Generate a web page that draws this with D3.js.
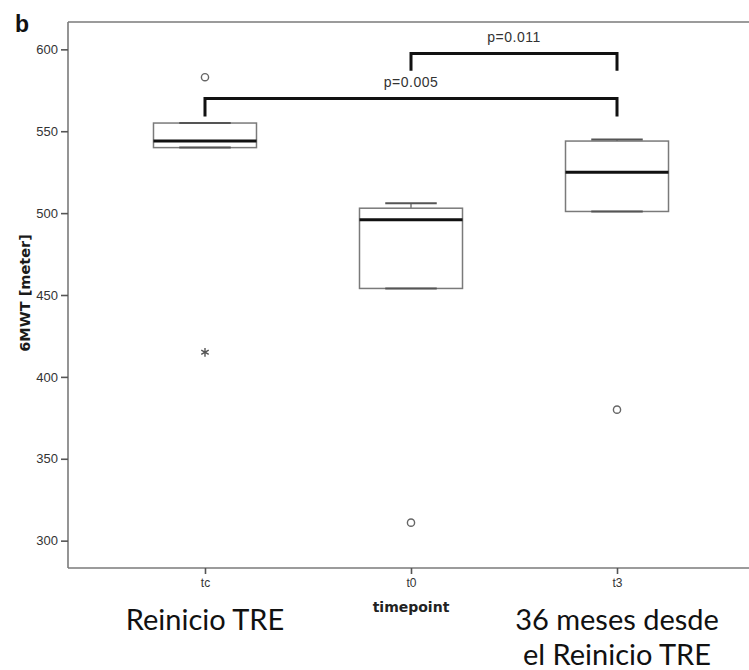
<!DOCTYPE html>
<html>
<head>
<meta charset="utf-8">
<script src="https://cdn.jsdelivr.net/npm/d3@7"></script>
<style>
  html, body { margin: 0; padding: 0; background: #fff; }
  svg { display: block; }
</style>
</head>
<body>
<script>
// Timepoints on the x axis
const categories = ["tc", "t0", "t3"];
// Box plot statistics per timepoint (6MWT, meters)
const whiskerLow  = [540, 454, 501];
const q1          = [540, 454, 501];
const medians     = [544, 496, 525];
const q3          = [555, 503, 544];
const whiskerHigh = [555, 506, 545];
// Outliers (circles) and extreme values (stars)
const outliers = [
  { cat: "tc", value: 583 },
  { cat: "t0", value: 311 },
  { cat: "t3", value: 380 }
];
const extremes = [
  { cat: "tc", value: 415 }
];
// Y axis ticks
const yTicks = [300, 350, 400, 450, 500, 550, 600];
// Significance brackets: level of the bar and end of the legs (meters)
const brackets = [
  { from: "tc", to: "t3", level: 570, leg: 559, label: "p=0.005" },
  { from: "t0", to: "t3", level: 597.5, leg: 587, label: "p=0.011" }
];
// Descriptive labels under the timepoints
const captions = [
  { cat: "tc", lines: ["Reinicio TRE"] },
  { cat: "t3", lines: ["36 meses desde", "el Reinicio TRE"] }
];

const W = 749, H = 670;
const svg = d3.select("body").append("svg").attr("width", W).attr("height", H);

const x = d3.scalePoint().domain(categories).range([68, 754]).padding(0.665);
const y = d3.scaleLinear().domain([283.3, 616.7]).range([568, 22]);
const step = x.step();
const boxW = step * 0.5, capW = step * 0.25;

const grey = "#7a7a7a";
const sans = "'Liberation Sans', Arial, sans-serif";

// Frame (open on the right)
svg.append("line").attr("x1", 68).attr("x2", W).attr("y1", 22).attr("y2", 22)
  .attr("stroke", grey).attr("stroke-width", 1.6);

// Y axis
const yAxis = svg.append("g").attr("transform", "translate(68,0)")
  .call(d3.axisLeft(y).tickValues(yTicks).tickSize(7).tickPadding(3).tickFormat(d3.format("d")));
yAxis.select(".domain").attr("stroke", grey).attr("stroke-width", 1.6).attr("d", "M0,22V568");
yAxis.selectAll(".tick line").attr("stroke", "#555").attr("stroke-width", 1.6);
yAxis.selectAll(".tick text").attr("font-family", sans).attr("font-size", 13).attr("fill", "#333");

// X axis
const xAxis = svg.append("g").attr("transform", "translate(0,568)")
  .call(d3.axisBottom(x).tickSize(6).tickPadding(4));
xAxis.select(".domain").attr("stroke", grey).attr("stroke-width", 1.6).attr("d", `M68,0H${W}`);
xAxis.selectAll(".tick line").attr("stroke", "#555").attr("stroke-width", 1.6);
xAxis.selectAll(".tick text").attr("font-family", sans).attr("font-size", 12).attr("fill", "#333");

// Axis titles
svg.append("text").attr("x", x("t0")).attr("y", 611.5).attr("text-anchor", "middle")
  .attr("font-family", "'DejaVu Sans', sans-serif").attr("font-weight", "bold").attr("font-size", 14)
  .attr("fill", "#222").text("timepoint");
svg.append("text").attr("transform", "translate(25,293) rotate(-90)")
  .attr("text-anchor", "middle").attr("dominant-baseline", "central")
  .attr("font-family", "'DejaVu Sans', sans-serif").attr("font-weight", "bold").attr("font-size", 14.5)
  .attr("fill", "#1a1a1a").text("6MWT [meter]");

// Panel letter
svg.append("text").attr("x", 15).attr("y", 31.5)
  .attr("font-family", sans).attr("font-weight", "bold").attr("font-size", 23)
  .attr("fill", "#111").text("b");

// Boxes
const boxes = categories.map((c, i) => ({
  cat: c, lo: whiskerLow[i], q1: q1[i], med: medians[i], q3: q3[i], hi: whiskerHigh[i]
}));
const g = svg.append("g");
boxes.forEach(b => {
  const cx = x(b.cat);
  // whiskers
  g.append("line").attr("x1", cx).attr("x2", cx).attr("y1", y(b.hi)).attr("y2", y(b.q3))
    .attr("stroke", grey).attr("stroke-width", 1.5);
  g.append("line").attr("x1", cx).attr("x2", cx).attr("y1", y(b.q1)).attr("y2", y(b.lo))
    .attr("stroke", grey).attr("stroke-width", 1.5);
  // box
  g.append("rect").attr("x", cx - boxW / 2).attr("y", y(b.q3))
    .attr("width", boxW).attr("height", y(b.q1) - y(b.q3))
    .attr("fill", "#fff").attr("stroke", grey).attr("stroke-width", 1.5);
  // caps
  [b.hi, b.lo].forEach(v => {
    g.append("line").attr("x1", cx - capW / 2).attr("x2", cx + capW / 2)
      .attr("y1", y(v)).attr("y2", y(v)).attr("stroke", "#555").attr("stroke-width", 2);
  });
  // median
  g.append("line").attr("x1", cx - boxW / 2).attr("x2", cx + boxW / 2)
    .attr("y1", y(b.med)).attr("y2", y(b.med)).attr("stroke", "#111").attr("stroke-width", 3);
});

// Outliers
g.selectAll("circle.out").data(outliers).join("circle").attr("class", "out")
  .attr("cx", d => x(d.cat)).attr("cy", d => y(d.value)).attr("r", 3.6)
  .attr("fill", "none").attr("stroke", "#666").attr("stroke-width", 1.4);

// Extreme values
g.selectAll("path.ext").data(extremes).join("path").attr("class", "ext")
  .attr("transform", d => `translate(${x(d.cat)},${y(d.value)})`)
  .attr("d", d3.symbol(d3.symbolAsterisk, 52))
  .attr("fill", "none").attr("stroke", "#555").attr("stroke-width", 1.4);

// Significance brackets
brackets.forEach(b => {
  const x1 = x(b.from), x2 = x(b.to);
  svg.append("path")
    .attr("d", `M${x1},${y(b.leg)}V${y(b.level)}H${x2}V${y(b.leg)}`)
    .attr("fill", "none").attr("stroke", "#111").attr("stroke-width", 3);
  svg.append("text").attr("x", (x1 + x2) / 2).attr("y", y(b.level) - 11.5)
    .attr("text-anchor", "middle").attr("font-family", sans).attr("font-size", 14)
    .attr("letter-spacing", 0.5).attr("fill", "#333").text(b.label);
});

// Descriptive captions
captions.forEach(c => {
  c.lines.forEach((line, i) => {
    svg.append("text").attr("x", x(c.cat)).attr("y", 629.5 + i * 35.5)
      .attr("text-anchor", "middle").attr("font-family", "Lato, 'Open Sans', sans-serif")
      .attr("font-size", 29).attr("fill", "#111").text(line);
  });
});
</script>
</body>
</html>
